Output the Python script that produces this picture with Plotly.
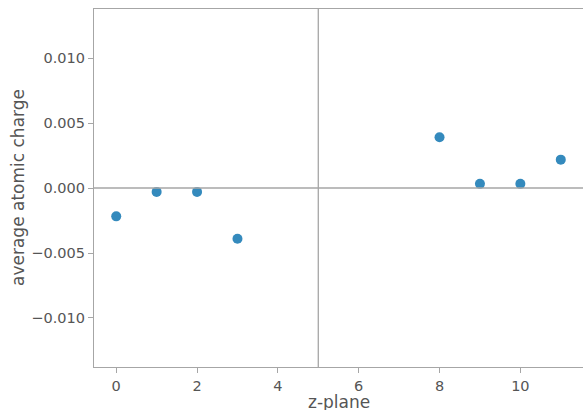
import plotly.graph_objects as go

z_plane = [0, 1, 2, 3, 8, 9, 10, 11]
avg_charge = [-0.00218, -0.0003, -0.0003, -0.0039, 0.0039, 0.00032, 0.00032, 0.00218]
x_ticks = [0, 2, 4, 6, 8, 10]
y_ticks = [-0.010, -0.005, 0.000, 0.005, 0.010]
y_tick_labels = ["\u22120.010", "\u22120.005", "0.000", "0.005", "0.010"]

spine = "#a6a6a6"
txt = "#555555"
font = "DejaVu Sans"

fig = go.Figure()
fig.add_trace(go.Scatter(
    x=z_plane, y=avg_charge, mode="markers",
    marker=dict(color="#348ABD", size=10, line=dict(width=0)),
    showlegend=False,
))
fig.add_vline(x=5, line=dict(color=spine, width=1.3))
fig.add_hline(y=0, line=dict(color=spine, width=1.3))

fig.update_layout(
    width=583, height=410,
    margin=dict(l=94, r=0, t=9, b=43),
    plot_bgcolor="white", paper_bgcolor="white",
    font=dict(family=font, color=txt, size=14.5),
)
fig.add_annotation(
    text="z-plane", x=0.5, y=0, xref="paper", yref="paper",
    xanchor="center", yanchor="middle", yshift=-35, showarrow=False,
    borderpad=0, font=dict(size=17, color=txt, family=font),
)
fig.add_annotation(
    text="average atomic charge", x=0, y=0.5, xref="paper", yref="paper",
    xanchor="center", yanchor="middle", xshift=-76, textangle=-90, showarrow=False,
    font=dict(size=17, color=txt, family=font),
)
fig.update_xaxes(
    range=[-0.55, 11.55], tickvals=x_ticks, showgrid=False, zeroline=False,
    showline=True, linecolor=spine, linewidth=1.3, mirror=True,
    ticks="outside", ticklen=5, tickcolor=spine, tickwidth=1.2,
    tickfont=dict(size=14.5, color=txt), automargin=False,
)
fig.update_yaxes(
    range=[-0.01377, 0.01377], tickvals=y_ticks, ticktext=y_tick_labels,
    showgrid=False, zeroline=False,
    showline=True, linecolor=spine, linewidth=1.3,
    ticks="outside", ticklen=5, tickcolor=spine, tickwidth=1.2,
    tickfont=dict(size=14.5, color=txt), automargin=False,
)
fig.write_html("out.html")
